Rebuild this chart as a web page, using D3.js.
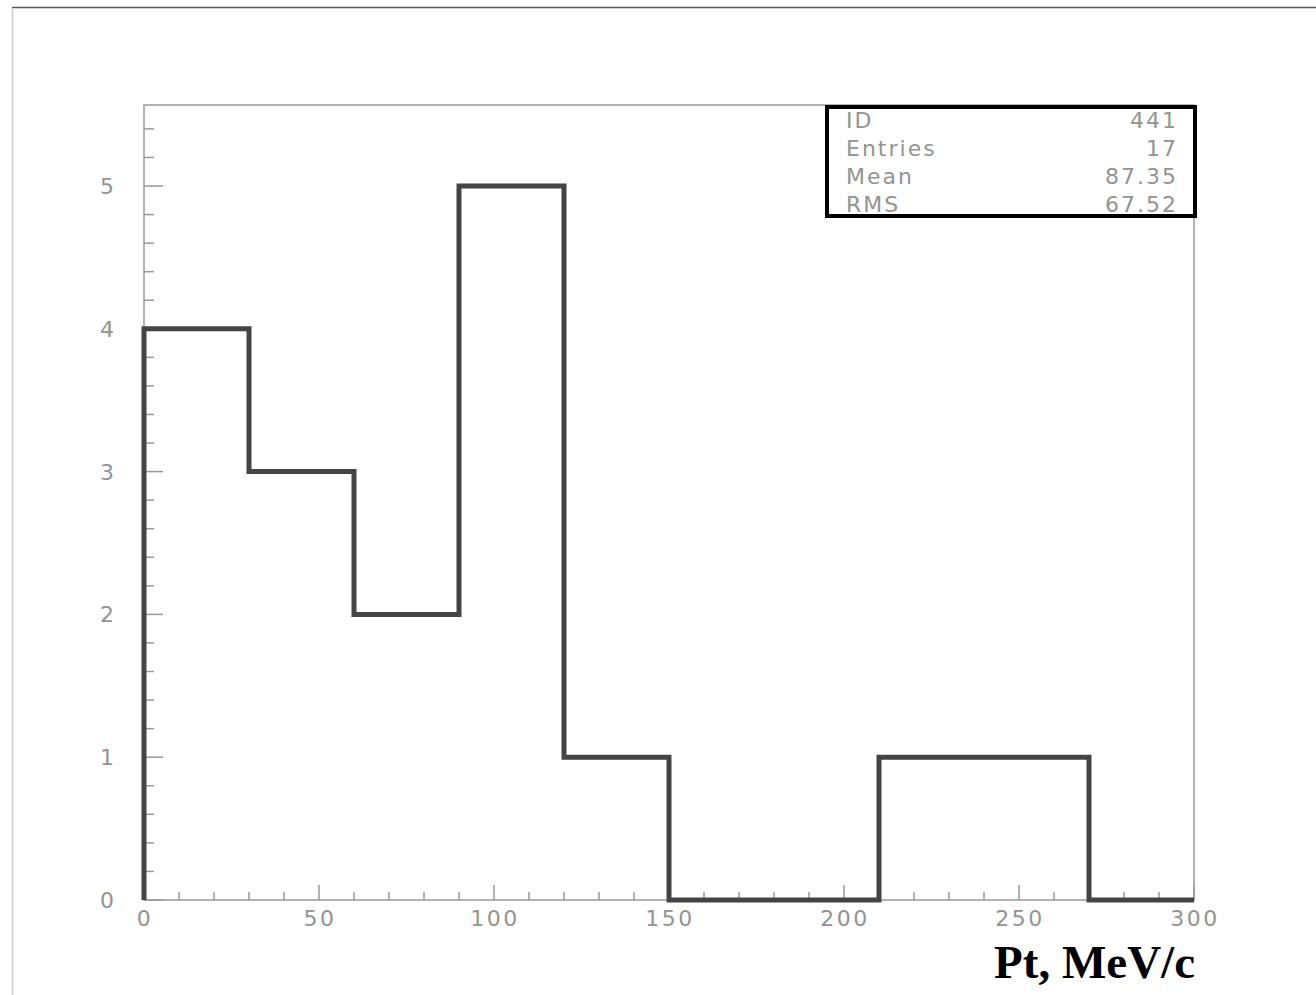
<!DOCTYPE html>
<html><head><meta charset="utf-8">
<script src="https://cdn.jsdelivr.net/npm/d3@7"></script>
<style>body{margin:0;background:#fff}svg{display:block}</style>
</head><body><svg id="c" width="1316" height="995"></svg>
<script>
const binEdges = [0,30,60,90,120,150,180,210,240,270,300];
const counts = [4,3,2,5,1,0,0,1,1,0];
const xTicks = [0,50,100,150,200,250,300];
const yTicks = [0,1,2,3,4,5];
const statLabels = ["ID","Entries","Mean","RMS"];
const statValues = ["441","17","87.35","67.52"];
const xTitle = "Pt, MeV/c";

const svg = d3.select("#c");
const L=144,R=1194,T=105,B=900;
const x = d3.scaleLinear().domain([0,300]).range([L,R]);
const y = d3.scaleLinear().domain([0,5]).range([B,186]);
const axisCol="#999", textCol="#939393";
const font="DejaVu Sans";

// page border
svg.append("line").attr("x1",12).attr("x2",1316).attr("y1",7.5).attr("y2",7.5).attr("stroke","#555").attr("stroke-width",1.5);
svg.append("line").attr("x1",12.5).attr("x2",12.5).attr("y1",8).attr("y2",995).attr("stroke","#ccc").attr("stroke-width",1.5);

// frame
svg.append("rect").attr("x",L).attr("y",T).attr("width",R-L).attr("height",B-T).attr("fill","none").attr("stroke",axisCol).attr("stroke-width",1.5);

// x ticks
const xMinor = d3.range(0,301,10);
svg.append("g").selectAll("line").data(xMinor).join("line")
 .attr("x1",d=>x(d)).attr("x2",d=>x(d)).attr("y1",B).attr("y2",d=>B-(d%50===0?15:8))
 .attr("stroke",axisCol).attr("stroke-width",1.5);
svg.append("g").selectAll("text").data(xTicks).join("text")
 .attr("x",d=>x(d)+1).attr("y",B+26).attr("text-anchor","middle")
 .attr("font-family",font).attr("font-size",22).attr("letter-spacing",2.5).attr("fill",textCol).text(d=>d);

// y ticks
const yMinor = d3.range(0,28).map(i=>i*0.2).filter(v=>y(v)>=T);
svg.append("g").selectAll("line").data(yMinor).join("line")
 .attr("x1",L).attr("x2",d=>L+(Math.abs(d-Math.round(d))<1e-6?19:10)).attr("y1",d=>y(d)).attr("y2",d=>y(d))
 .attr("stroke",axisCol).attr("stroke-width",1.5);
svg.append("g").selectAll("text").data(yTicks).join("text")
 .attr("x",107).attr("y",d=>y(d)+8).attr("text-anchor","middle")
 .attr("font-family",font).attr("font-size",22).attr("fill",textCol).text(d=>d);

// histogram step line
const pts=[[0,0]];
counts.forEach((c,i)=>{pts.push([binEdges[i],c]);pts.push([binEdges[i+1],c]);});
pts.push([300,0]);
svg.append("path").attr("d",d3.line().x(d=>x(d[0])).y(d=>y(d[1]))(pts))
 .attr("fill","none").attr("stroke","#444").attr("stroke-width",5).attr("stroke-linejoin","miter").attr("stroke-linecap","butt");

// stats box
svg.append("rect").attr("x",827).attr("y",107).attr("width",368).attr("height",109).attr("fill","#fff").attr("stroke","#000").attr("stroke-width",4);
statLabels.forEach((l,i)=>{
  svg.append("text").attr("x",846).attr("y",128+i*28).attr("font-family",font).attr("font-size",22).attr("letter-spacing",2).attr("fill",textCol).text(l);
  svg.append("text").attr("x",1178).attr("y",128+i*28).attr("text-anchor","end").attr("font-family",font).attr("font-size",22).attr("letter-spacing",2).attr("fill",textCol).text(statValues[i]);
});

// x title
svg.append("text").attr("x",1195).attr("y",978).attr("text-anchor","end").attr("font-family","Liberation Serif").attr("font-weight","bold").attr("font-size",47).attr("fill","#000").text(xTitle);
</script></body></html>
